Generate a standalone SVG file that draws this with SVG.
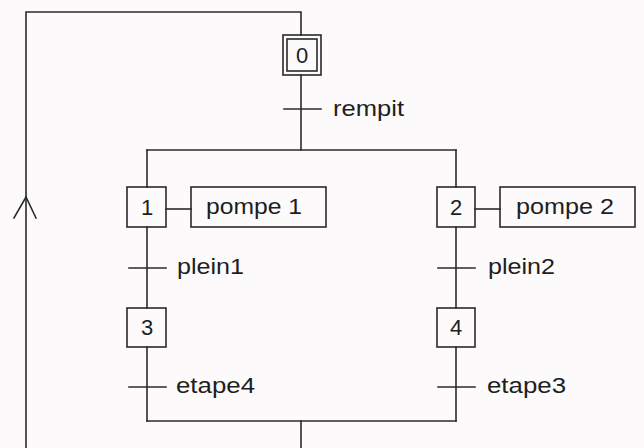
<svg xmlns="http://www.w3.org/2000/svg" width="644" height="448" viewBox="0 0 644 448">
<style>
.ln{stroke:#2a2a2a;stroke-width:1.6;fill:none;stroke-linecap:square}
.bx{stroke:#2a2a2a;stroke-width:1.6;fill:none}
.t{font-family:"Liberation Sans",Arial,sans-serif;font-size:22px;fill:#1e1e1e}
.n{font-family:"Liberation Sans",Arial,sans-serif;font-size:22px;fill:#1e1e1e;text-anchor:middle}
</style>
<rect x="0" y="0" width="644" height="448" fill="#fcfafb"/>
<g id="connectors">
<polyline class="ln" points="301,35 301,12 26,12 26,448"/>
<polyline class="ln" points="14,218 26,197 36,218"/>
<line class="ln" x1="301" y1="75" x2="301" y2="150"/>
<line class="ln" x1="147" y1="150" x2="456" y2="150"/>
<line class="ln" x1="147" y1="150" x2="147" y2="187"/>
<line class="ln" x1="456" y1="150" x2="456" y2="187"/>
<line class="ln" x1="147" y1="227" x2="147" y2="308"/>
<line class="ln" x1="456" y1="227" x2="456" y2="308"/>
<line class="ln" x1="147" y1="347" x2="147" y2="421"/>
<line class="ln" x1="456" y1="347" x2="456" y2="421"/>
<line class="ln" x1="147" y1="421" x2="456" y2="421"/>
<line class="ln" x1="301" y1="421" x2="301" y2="448"/>
<line class="ln" x1="166" y1="209" x2="191" y2="209"/>
<line class="ln" x1="475" y1="209" x2="500" y2="209"/>
</g>
<g id="t_rempit">
<line class="ln" x1="284" y1="109" x2="321" y2="109"/>
<text class="t" x="333" y="116" textLength="71" lengthAdjust="spacingAndGlyphs">rempit</text>
</g>
<g id="t_plein1">
<line class="ln" x1="129" y1="268" x2="166" y2="268"/>
<text class="t" x="177" y="274" textLength="67" lengthAdjust="spacingAndGlyphs">plein1</text>
</g>
<g id="t_plein2">
<line class="ln" x1="438" y1="268" x2="475" y2="268"/>
<text class="t" x="488" y="274" textLength="67" lengthAdjust="spacingAndGlyphs">plein2</text>
</g>
<g id="t_etape4">
<line class="ln" x1="129" y1="387" x2="166" y2="387"/>
<text class="t" x="176" y="393" textLength="79" lengthAdjust="spacingAndGlyphs">etape4</text>
</g>
<g id="t_etape3">
<line class="ln" x1="438" y1="387" x2="475" y2="387"/>
<text class="t" x="487" y="393" textLength="79" lengthAdjust="spacingAndGlyphs">etape3</text>
</g>
<g id="step0">
<rect class="bx" x="283" y="35" width="38" height="40"/>
<rect class="bx" x="287" y="39" width="30" height="32"/>
<text class="n" x="302" y="63">0</text>
</g>
<g id="step1">
<rect class="bx" x="127" y="187" width="39" height="40"/>
<text class="n" x="147" y="215">1</text>
</g>
<g id="step2">
<rect class="bx" x="437" y="187" width="38" height="40"/>
<text class="n" x="456" y="215">2</text>
</g>
<g id="step3">
<rect class="bx" x="127" y="308" width="39" height="39"/>
<text class="n" x="147" y="335">3</text>
</g>
<g id="step4">
<rect class="bx" x="437" y="308" width="38" height="39"/>
<text class="n" x="456" y="335">4</text>
</g>
<g id="action1">
<rect class="bx" x="191" y="187" width="135" height="40"/>
<text class="t" x="206" y="214" textLength="96" lengthAdjust="spacingAndGlyphs">pompe 1</text>
</g>
<g id="action2">
<rect class="bx" x="500" y="187" width="135" height="40"/>
<text class="t" x="516" y="214" textLength="98" lengthAdjust="spacingAndGlyphs">pompe 2</text>
</g>
</svg>
